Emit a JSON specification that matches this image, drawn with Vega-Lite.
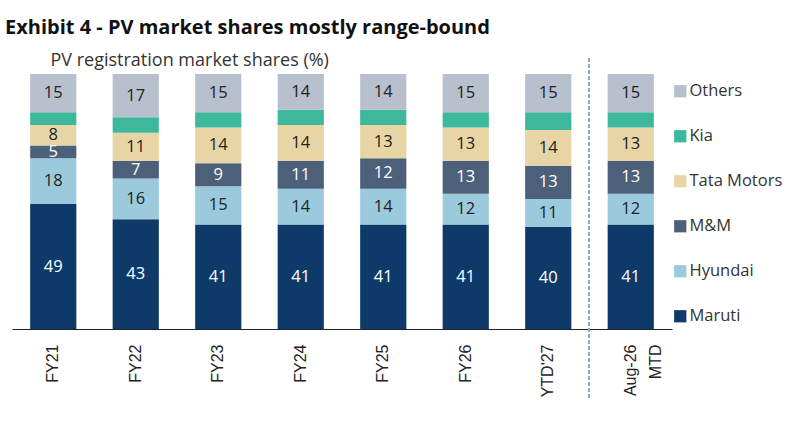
{
  "$schema": "https://vega.github.io/schema/vega-lite/v6.json",
  "width": 660,
  "height": 255,
  "autosize": "none",
  "padding": {"left": 12, "top": 74, "right": 128, "bottom": 93},
  "background": "white",
  "title": {
    "text": "Exhibit 4 - PV market shares mostly range-bound",
    "anchor": "start",
    "font": "Open Sans",
    "fontSize": 20,
    "fontWeight": "bold",
    "color": "#111111",
    "dx": -7,
    "offset": 13
  },
  "config": {"view": {"stroke": null}, "font": "Open Sans"},
  "data": {
    "values": [
      {"fy": "FY21", "brand": "Maruti", "rank": 1, "share": 49},
      {"fy": "FY21", "brand": "Hyundai", "rank": 2, "share": 18},
      {"fy": "FY21", "brand": "M&M", "rank": 3, "share": 5},
      {"fy": "FY21", "brand": "Tata Motors", "rank": 4, "share": 8},
      {"fy": "FY21", "brand": "Kia", "rank": 5, "share": 5},
      {"fy": "FY21", "brand": "Others", "rank": 6, "share": 15},
      {"fy": "FY22", "brand": "Maruti", "rank": 1, "share": 43},
      {"fy": "FY22", "brand": "Hyundai", "rank": 2, "share": 16},
      {"fy": "FY22", "brand": "M&M", "rank": 3, "share": 7},
      {"fy": "FY22", "brand": "Tata Motors", "rank": 4, "share": 11},
      {"fy": "FY22", "brand": "Kia", "rank": 5, "share": 6},
      {"fy": "FY22", "brand": "Others", "rank": 6, "share": 17},
      {"fy": "FY23", "brand": "Maruti", "rank": 1, "share": 41},
      {"fy": "FY23", "brand": "Hyundai", "rank": 2, "share": 15},
      {"fy": "FY23", "brand": "M&M", "rank": 3, "share": 9},
      {"fy": "FY23", "brand": "Tata Motors", "rank": 4, "share": 14},
      {"fy": "FY23", "brand": "Kia", "rank": 5, "share": 6},
      {"fy": "FY23", "brand": "Others", "rank": 6, "share": 15},
      {"fy": "FY24", "brand": "Maruti", "rank": 1, "share": 41},
      {"fy": "FY24", "brand": "Hyundai", "rank": 2, "share": 14},
      {"fy": "FY24", "brand": "M&M", "rank": 3, "share": 11},
      {"fy": "FY24", "brand": "Tata Motors", "rank": 4, "share": 14},
      {"fy": "FY24", "brand": "Kia", "rank": 5, "share": 6},
      {"fy": "FY24", "brand": "Others", "rank": 6, "share": 14},
      {"fy": "FY25", "brand": "Maruti", "rank": 1, "share": 41},
      {"fy": "FY25", "brand": "Hyundai", "rank": 2, "share": 14},
      {"fy": "FY25", "brand": "M&M", "rank": 3, "share": 12},
      {"fy": "FY25", "brand": "Tata Motors", "rank": 4, "share": 13},
      {"fy": "FY25", "brand": "Kia", "rank": 5, "share": 6},
      {"fy": "FY25", "brand": "Others", "rank": 6, "share": 14},
      {"fy": "FY26", "brand": "Maruti", "rank": 1, "share": 41},
      {"fy": "FY26", "brand": "Hyundai", "rank": 2, "share": 12},
      {"fy": "FY26", "brand": "M&M", "rank": 3, "share": 13},
      {"fy": "FY26", "brand": "Tata Motors", "rank": 4, "share": 13},
      {"fy": "FY26", "brand": "Kia", "rank": 5, "share": 6},
      {"fy": "FY26", "brand": "Others", "rank": 6, "share": 15},
      {"fy": "YTD'27", "brand": "Maruti", "rank": 1, "share": 40},
      {"fy": "YTD'27", "brand": "Hyundai", "rank": 2, "share": 11},
      {"fy": "YTD'27", "brand": "M&M", "rank": 3, "share": 13},
      {"fy": "YTD'27", "brand": "Tata Motors", "rank": 4, "share": 14},
      {"fy": "YTD'27", "brand": "Kia", "rank": 5, "share": 7},
      {"fy": "YTD'27", "brand": "Others", "rank": 6, "share": 15},
      {"fy": "Aug-26 MTD", "brand": "Maruti", "rank": 1, "share": 41},
      {"fy": "Aug-26 MTD", "brand": "Hyundai", "rank": 2, "share": 12},
      {"fy": "Aug-26 MTD", "brand": "M&M", "rank": 3, "share": 13},
      {"fy": "Aug-26 MTD", "brand": "Tata Motors", "rank": 4, "share": 13},
      {"fy": "Aug-26 MTD", "brand": "Kia", "rank": 5, "share": 6},
      {"fy": "Aug-26 MTD", "brand": "Others", "rank": 6, "share": 15}
    ]
  },
  "encoding": {
    "x": {
      "field": "fy",
      "type": "nominal",
      "sort": null,
      "scale": {"paddingInner": 0.44, "paddingOuter": 0.22},
      "axis": {
        "title": null,
        "labelAngle": -90,
        "labelFont": "Liberation Sans",
        "labelFontSize": 16,
        "labelColor": "#222222",
        "labelPadding": 15,
        "labelLineHeight": 25,
        "ticks": false,
        "domainColor": "#222222",
        "domainWidth": 1.2,
        "labelExpr": "datum.value == 'Aug-26 MTD' ? ['Aug-26', 'MTD\u00a0\u00a0\u00a0'] : datum.label"
      }
    }
  },
  "layer": [
    {
      "mark": {"type": "bar"},
      "encoding": {
        "y": {
          "field": "share",
          "type": "quantitative",
          "stack": "zero",
          "scale": {"domain": [0, 100]},
          "axis": {
            "title": "PV registration market shares (%)",
            "labels": false,
            "ticks": false,
            "domain": false,
            "grid": false,
            "titleAngle": 0,
            "titleX": 38,
            "titleY": -14,
            "titleAlign": "left",
            "titleBaseline": "middle",
            "titleFont": "Open Sans",
            "titleFontSize": 18,
            "titleFontWeight": "normal",
            "titleColor": "#333333"
          }
        },
        "color": {
          "field": "brand",
          "type": "nominal",
          "scale": {
            "domain": ["Maruti", "Hyundai", "M&M", "Tata Motors", "Kia", "Others"],
            "range": ["#0e3a69", "#9ccadd", "#4d6079", "#e8d5a5", "#3db89b", "#b8bfcd"]
          },
          "legend": {
            "title": null,
            "orient": "none",
            "legendX": 660,
            "legendY": 9,
            "values": ["Others", "Kia", "Tata Motors", "M&M", "Hyundai", "Maruti"],
            "symbolType": "square",
            "symbolSize": 150,
            "symbolStrokeWidth": 0,
            "labelFont": "Open Sans",
            "labelFontSize": 16.5,
            "labelColor": "#333333",
            "labelOffset": 1,
            "rowPadding": 28
          }
        },
        "order": {"field": "rank", "type": "quantitative"}
      }
    },
    {
      "mark": {"type": "text", "font": "Open Sans", "fontSize": 16.5},
      "encoding": {
        "y": {"field": "share", "type": "quantitative", "stack": "zero", "bandPosition": 0.5},
        "text": {
          "condition": {"test": "datum.brand === 'Kia'", "value": ""},
          "field": "share",
          "type": "quantitative"
        },
        "color": {
          "condition": {"test": "datum.brand === 'Maruti' || datum.brand === 'M&M'", "value": "#ffffff"},
          "value": "#222222"
        },
        "detail": {"field": "brand"},
        "order": {"field": "rank", "type": "quantitative"}
      }
    },
    {
      "mark": {"type": "rule", "strokeDash": [3, 3], "color": "#8ea9cc", "strokeWidth": 1, "clip": false},
      "encoding": {
        "x": {"datum": "Aug-26 MTD", "type": "nominal", "bandPosition": -0.41},
        "y": {"datum": 106},
        "y2": {"datum": -28}
      }
    }
  ]
}
